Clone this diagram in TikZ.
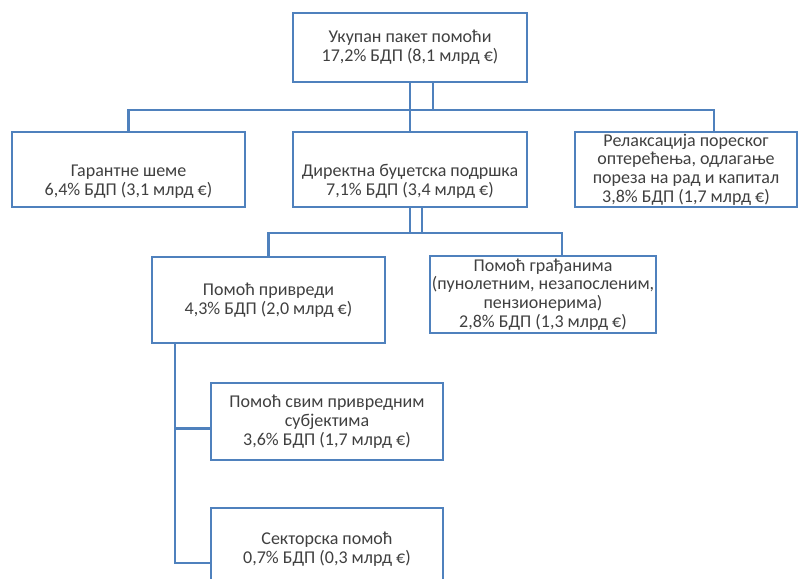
\documentclass[tikz,border=0pt]{standalone}
\usepackage{fontspec}
\setmainfont{Carlito}
\usetikzlibrary{positioning,calc}
\definecolor{boxblue}{RGB}{79,129,189}
\definecolor{txtgray}{RGB}{64,64,64}
\newcommand{\toppad}{\rule{0pt}{18pt}}

\begin{document}
\begin{tikzpicture}[x=0.5pt,y=-0.5pt,
    box/.style={draw=boxblue, line width=1.1pt, fill=white, align=center,
                text=txtgray, inner sep=1pt, font=\fontsize{9}{9.4}\selectfont},
    link/.style={draw=boxblue, line width=1.1pt}]
\useasboundingbox (0,0) rectangle (799,579);
       % top level
       \node [box, minimum width=117pt, minimum height=34.5pt] (total) at (410,47.5)
             {Укупан пакет помоћи\\17,2\% БДП (8,1 млрд €)};
       % second row
       \node [box, minimum width=116.5pt, minimum height=37.5pt] (guar) at (128.5,169.5)
             {\toppad Гарантне шеме\\6,4\% БДП (3,1 млрд €)};
       \node [box, minimum width=117pt, minimum height=37.5pt] (direct) at (410,169.5)
             {\toppad Директна буџетска подршка\\7,1\% БДП (3,4 млрд €)};
       \node [box, minimum width=111pt, minimum height=37.5pt] (tax) at (686,169.5)
             {Релаксација пореског\\оптерећења, одлагање\\пореза на рад и капитал\\3,8\% БДП (1,7 млрд €)};
       % third row
       \node [box, minimum width=116.5pt, minimum height=43pt] (biz) at (268.5,300)
             {Помоћ привреди\\4,3\% БДП (2,0 млрд €)};
       \node [box, minimum width=109pt, minimum height=38.5pt] (citz) at (543,294.5)
             {Помоћ грађанима\\(пунолетним, незапосленим,\\пензионерима)\\2,8\% БДП (1,3 млрд €)};
       % fourth row
       \node [box, minimum width=116pt, minimum height=38.5pt] (allf) at (327,421.5)
             {Помоћ свим привредним\\субјектима\\3,6\% БДП (1,7 млрд €)};
       \node [box, minimum width=116pt, minimum height=41pt] (sect) at (327,549)
             {Секторска помоћ\\0,7\% БДП (0,3 млрд €)};

       \coordinate (topbus) at (410,110);
       \coordinate (midbus) at (410,233);
       % connectors
       \draw[link] (total.south) -- (direct.north);
       \draw[link] ([xshift=11.5pt]total.south) -- ([xshift=11.5pt]total.south |- topbus);
       \draw[link] (guar.north) |- (topbus) -| ([xshift=14pt]tax.north);
       \draw[link] ([xshift=6pt]direct.south) -- ([xshift=6pt]direct.south |- midbus);
       \draw[link] (direct.south) -- (midbus);
       \draw[link] (biz.north) |- (midbus) -| ([xshift=9.5pt]citz.north);
       \draw[link] ([xshift=12pt]biz.south west) |- ([yshift=-3.5pt]allf.west);
       \draw[link] ([xshift=12pt]biz.south west) |- ([yshift=-7pt]sect.west);
\end{tikzpicture}
\end{document}
